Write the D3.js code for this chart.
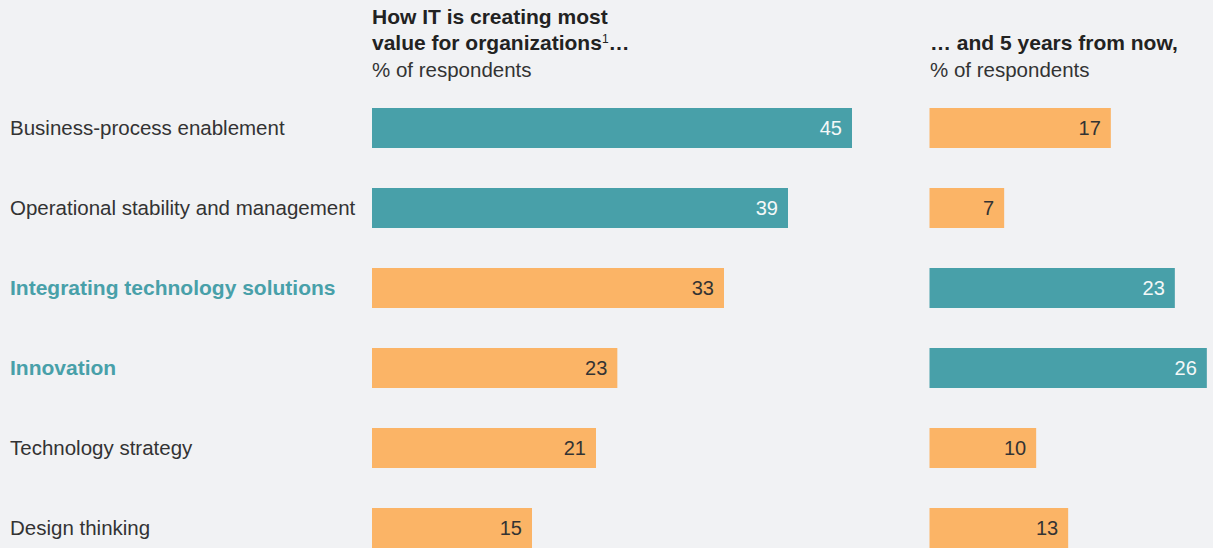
<!DOCTYPE html>
<html>
<head>
<meta charset="utf-8">
<script src="https://cdn.jsdelivr.net/npm/d3@7"></script>
<style>
  body { margin: 0; background: #f1f2f4; }
  svg { display: block; font-family: "Liberation Sans", Arial, sans-serif; }
  .title { font-weight: bold; fill: #222; font-size: 21px; }
  .sub { fill: #333; font-size: 20.5px; }
  .cat { font-size: 20.5px; }
  .val { font-size: 20px; }
</style>
</head>
<body>
<div id="chart"></div>
<script>
// two bar columns: value today vs. 5 years from now

const categories = [
  "Business-process enablement",
  "Operational stability and management",
  "Integrating technology solutions",
  "Innovation",
  "Technology strategy",
  "Design thinking"
];
const nowValues = [45, 39, 33, 23, 21, 15];
const futureValues = [17, 7, 23, 26, 10, 13];

const width = 1213;
const height = 548;
const teal = "#48a0a9";
const orange = "#fbb466";

const svg = d3.select("#chart").append("svg")
  .attr("width", width)
  .attr("height", height)

svg.append("rect")
  .attr("width", width)
  .attr("height", height)
  .attr("fill", "#f1f2f4")

// 80px per row, 40px bars
const yScale = d3.scaleBand()
  .domain(categories)
  .range([108, 548])
  .paddingInner(0.5)
  .paddingOuter(0)
  .align(0)

// 10.67 px per percentage point
const xNow = d3.scaleLinear().domain([0, 45]).range([372, 852]);
const xFuture = d3.scaleLinear().domain([0, 45]).range([929.5, 1409.5]);

// top two in each column get the teal colour
const topTwo = vals => vals.slice().sort((a, b) => b - a).slice(0, 2);
const nowTop = topTwo(nowValues);
const futTop = topTwo(futureValues);

// category labels (highlighted where future top two)
svg.selectAll(".cat")
  .data(categories)
  .enter()
  .append("text")
  .attr("class", "cat")
  .attr("x", 10)
  .attr("y", (d, i) => yScale(d) + yScale.bandwidth() / 2 + 7)
  .style("fill", (d, i) => futTop.includes(futureValues[i]) ? teal : "#333")
  .style("font-weight", (d, i) => futTop.includes(futureValues[i]) ? "bold" : "normal")
  .style("font-size", (d, i) => futTop.includes(futureValues[i]) ? "21px" : null)
  .text(d => d)

function drawColumn(values, x, top) {
  const g = svg.append("g")
  const bars = g.selectAll("g")
    .data(values)
    .enter()
    .append("g")

  bars.append("rect")
    .attr("x", x(0))
    .attr("y", (d, i) => yScale(categories[i]))
    .attr("width", d => x(d) - x(0))
    .attr("height", yScale.bandwidth())
    .attr("fill", d => top.includes(d) ? teal : orange)

  bars.append("text")
    .attr("class", "val")
    .attr("x", d => x(d) - 10)
    .attr("y", (d, i) => yScale(categories[i]) + yScale.bandwidth() / 2 + 7)
    .attr("text-anchor", "end")
    .style("fill", d => top.includes(d) ? "#f4f8f8" : "#333")
    .text(d => d)
}

drawColumn(nowValues, xNow, nowTop);
drawColumn(futureValues, xFuture, futTop);

// headers
svg.append("text").attr("class", "title").attr("x", 372).attr("y", 24)
  .text("How IT is creating most")
const h2 = svg.append("text").attr("class", "title").attr("x", 372).attr("y", 50)
h2.append("tspan").text("value for organizations")
h2.append("tspan").style("font-size", "12px").style("font-weight", "normal").attr("dy", -7).text("1")
h2.append("tspan").attr("dy", 7).text("\u2026")
svg.append("text").attr("class", "sub").attr("x", 372).attr("y", 77).text("% of respondents")

svg.append("text").attr("class", "title").attr("x", 930).attr("y", 50).text("\u2026 and 5 years from now,")
svg.append("text").attr("class", "sub").attr("x", 930).attr("y", 77).text("% of respondents")
</script>
</body>
</html>
